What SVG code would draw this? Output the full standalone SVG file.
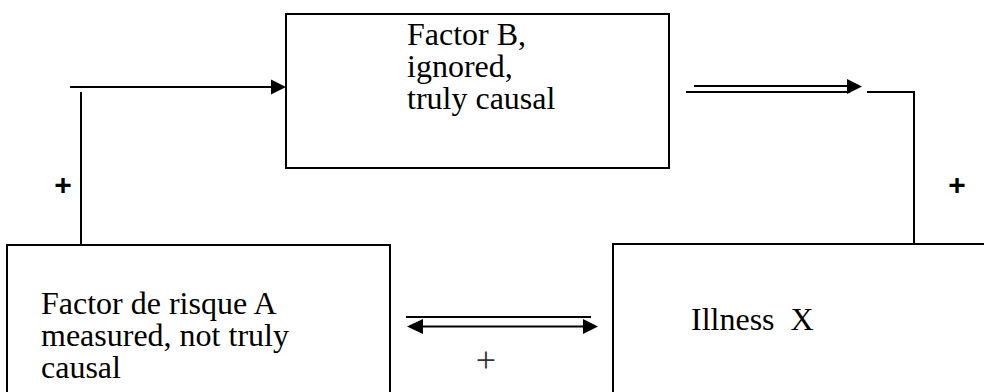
<svg xmlns="http://www.w3.org/2000/svg" width="984" height="392" viewBox="0 0 984 392">
<style>
.box{fill:#fff;stroke:#000;stroke-width:2}
.ln{fill:none;stroke:#000;stroke-width:2}
.t{font-family:"Liberation Serif","Times New Roman",serif;font-size:32px;fill:#000;white-space:pre}
.p{font-family:"Liberation Sans",Arial,sans-serif;font-size:30px;font-weight:bold;fill:#000}
.ps{font-family:"Liberation Serif","Times New Roman",serif;font-size:36px;fill:#333}
</style>
<rect width="984" height="392" fill="#fff"/>
<g id="factorB">
<rect class="box" x="286" y="14" width="383" height="154"/>
<text class="t" x="407" y="45">Factor B,<tspan x="407" dy="32">ignored,</tspan><tspan x="407" dy="32">truly causal</tspan></text>
</g>
<g id="factorA">
<rect class="box" x="7" y="245" width="383" height="160"/>
<text class="t" x="41" y="314">Factor de risque A<tspan x="41" dy="32">measured, not truly</tspan><tspan x="41" dy="32">causal</tspan></text>
</g>
<g id="illness">
<rect class="box" x="613" y="244" width="380" height="160"/>
<text class="t" x="691" y="330" xml:space="preserve">Illness  X</text>
</g>
<g id="connectors">
<line class="ln" x1="81" y1="92" x2="81" y2="245"/>
<line class="ln" x1="70" y1="87" x2="272" y2="87"/>
<polygon points="271,79.5 286,87 271,94.5" fill="#000"/>
<line class="ln" x1="694" y1="86" x2="849" y2="86"/>
<line class="ln" x1="686" y1="92" x2="850" y2="92"/>
<polygon points="847,79 862,86.5 847,94" fill="#000"/>
<polyline class="ln" points="867,92 914,92 914,244"/>
<line class="ln" x1="406" y1="317" x2="591" y2="317"/>
<line class="ln" x1="422" y1="326.5" x2="584" y2="326.5"/>
<polygon points="423,319 407,326.5 423,334" fill="#000"/>
<polygon points="583,319 598,326.5 583,334" fill="#000"/>
<text class="p" x="63" y="195" text-anchor="middle">+</text>
<text class="p" x="957" y="195" text-anchor="middle">+</text>
<text class="ps" x="486" y="372" text-anchor="middle">+</text>
</g>
</svg>
